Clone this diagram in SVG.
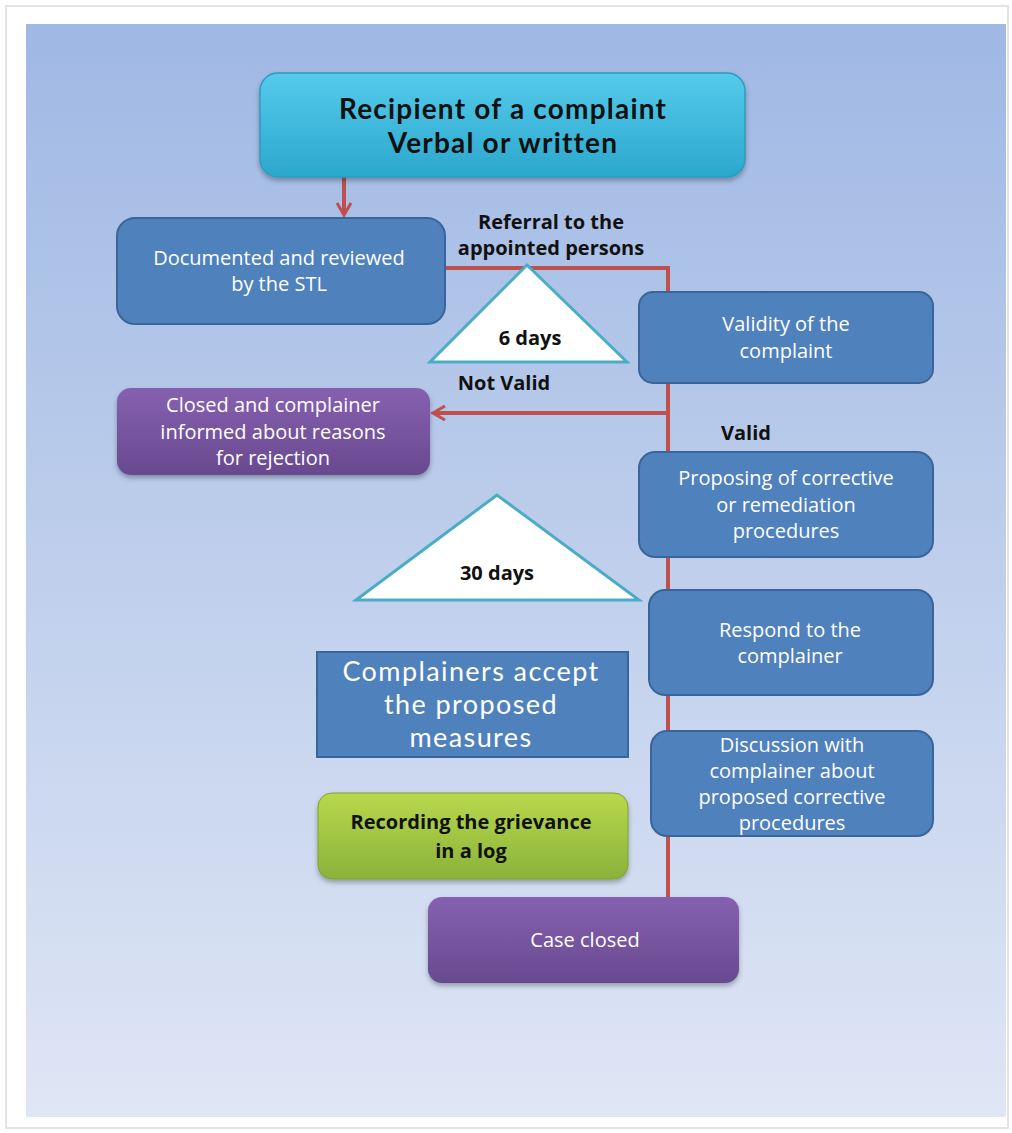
<svg xmlns="http://www.w3.org/2000/svg" width="1012" height="1133" viewBox="0 0 1012 1133">
<defs>
<linearGradient id="bg" x1="0" y1="0" x2="0" y2="1">
<stop offset="0" stop-color="#9fb8e4"/>
<stop offset="0.5" stop-color="#bfcfec"/>
<stop offset="1" stop-color="#dfe6f5"/>
</linearGradient>
<linearGradient id="cyan" x1="0" y1="0" x2="0" y2="1">
<stop offset="0" stop-color="#55cbec"/>
<stop offset="1" stop-color="#2ba7cc"/>
</linearGradient>
<linearGradient id="purple" x1="0" y1="0" x2="0" y2="1">
<stop offset="0" stop-color="#8660b0"/>
<stop offset="1" stop-color="#684a8f"/>
</linearGradient>
<linearGradient id="green" x1="0" y1="0" x2="0" y2="1">
<stop offset="0" stop-color="#b8d84c"/>
<stop offset="1" stop-color="#8bb23a"/>
</linearGradient>
<filter id="sh" x="-10%" y="-10%" width="120%" height="130%">
<feDropShadow dx="0" dy="3" stdDeviation="2.5" flood-color="#000" flood-opacity="0.3"/>
</filter>
<marker id="ah2" markerWidth="16" markerHeight="16" refX="12" refY="8" orient="auto" markerUnits="userSpaceOnUse" viewBox="0 0 16 16">
<path d="M1,1 L13,8 L1,15" fill="none" stroke="#c0504d" stroke-width="3"/>
</marker>
</defs>
<style>
.wt{font-family:"Open Sans",Lato,"Liberation Sans",sans-serif;fill:#fff;text-anchor:middle;font-size:20px}
.bt{font-family:"Open Sans",Lato,"Liberation Sans",sans-serif;fill:#111;text-anchor:middle;font-size:20px;font-weight:bold}
.title{font-family:Lato,"Open Sans","Liberation Sans",sans-serif;font-size:28px;letter-spacing:1.2px}
.big{font-family:Lato,"Open Sans","Liberation Sans",sans-serif;font-size:27px;letter-spacing:1.4px}
.blue{fill:#4f81bd;stroke:#3a659a;stroke-width:2}
.conn{stroke:#c0504d;stroke-width:4;fill:none}
.tri{fill:#fff;stroke:#4bacc6;stroke-width:3}
</style>
<rect x="0" y="0" width="1012" height="1133" fill="#fff"/>
<rect x="6" y="6" width="1002" height="1122" fill="#fff" stroke="#e4e4e4" stroke-width="2"/>
<rect x="26" y="24" width="980" height="1093" fill="url(#bg)"/>

<g id="connectors">
<line class="conn" x1="344" y1="177" x2="344" y2="214" marker-end="url(#ah2)"/>
<polyline class="conn" points="445,268 668,268 668,897"/>
<line class="conn" x1="668" y1="413" x2="434" y2="413" marker-end="url(#ah2)"/>
</g>

<g id="n-recipient">
<rect x="260" y="73" width="485" height="104" rx="18" fill="url(#cyan)" stroke="#2c9cc0" stroke-width="1.5" filter="url(#sh)"/>
<text class="bt title" x="503" y="119">Recipient of a complaint</text>
<text class="bt title" x="503" y="153">Verbal or written</text>
</g>

<g id="n-documented">
<rect class="blue" x="117" y="218" width="328" height="106" rx="18"/>
<text class="wt" x="279" y="265">Documented and reviewed</text>
<text class="wt" x="279" y="291">by the STL</text>
</g>

<g id="l-referral">
<text class="bt" x="551" y="229">Referral to the</text>
<text class="bt" x="551" y="255">appointed persons</text>
</g>

<g id="n-6days">
<polygon class="tri" points="527,265 430,362 627,362"/>
<text class="bt" x="530" y="345">6 days</text>
</g>

<g id="n-validity">
<rect class="blue" x="639" y="292" width="294" height="91" rx="14"/>
<text class="wt" x="786" y="331">Validity of the</text>
<text class="wt" x="786" y="358">complaint</text>
</g>

<g id="l-notvalid">
<text class="bt" x="504" y="390">Not Valid</text>
</g>

<g id="n-rejected">
<rect x="117" y="388" width="313" height="87" rx="14" fill="url(#purple)" filter="url(#sh)"/>
<text class="wt" x="273" y="412">Closed and complainer</text>
<text class="wt" x="273" y="439">informed about reasons</text>
<text class="wt" x="273" y="465">for rejection</text>
</g>

<g id="l-valid">
<text class="bt" x="746" y="440">Valid</text>
</g>

<g id="n-proposing">
<rect class="blue" x="639" y="452" width="294" height="105" rx="16"/>
<text class="wt" x="786" y="485">Proposing of corrective</text>
<text class="wt" x="786" y="512">or remediation</text>
<text class="wt" x="786" y="538">procedures</text>
</g>

<g id="n-30days">
<polygon class="tri" points="497,495 356,600 639,600"/>
<text class="bt" x="497" y="580">30 days</text>
</g>

<g id="n-respond">
<rect class="blue" x="649" y="590" width="284" height="105" rx="16"/>
<text class="wt" x="790" y="637">Respond to the</text>
<text class="wt" x="790" y="663">complainer</text>
</g>

<g id="n-accept">
<rect class="blue" x="317" y="652" width="311" height="105"/>
<text class="wt big" x="471" y="681">Complainers accept</text>
<text class="wt big" x="471" y="714">the proposed</text>
<text class="wt big" x="471" y="747">measures</text>
</g>

<g id="n-discussion">
<rect class="blue" x="651" y="731" width="282" height="105" rx="16"/>
<text class="wt" x="792" y="752">Discussion with</text>
<text class="wt" x="792" y="778">complainer  about</text>
<text class="wt" x="792" y="804">proposed corrective</text>
<text class="wt" x="792" y="830">procedures</text>
</g>

<g id="n-recording">
<rect x="318" y="793" width="310" height="86" rx="14" fill="url(#green)" stroke="#7fa232" stroke-width="1" filter="url(#sh)"/>
<text class="bt" x="471" y="829">Recording the grievance</text>
<text class="bt" x="471" y="858">in a log</text>
</g>

<g id="n-caseclosed">
<rect x="428" y="897" width="311" height="86" rx="14" fill="url(#purple)" filter="url(#sh)"/>
<text class="wt" x="585" y="947">Case closed</text>
</g>
</svg>
